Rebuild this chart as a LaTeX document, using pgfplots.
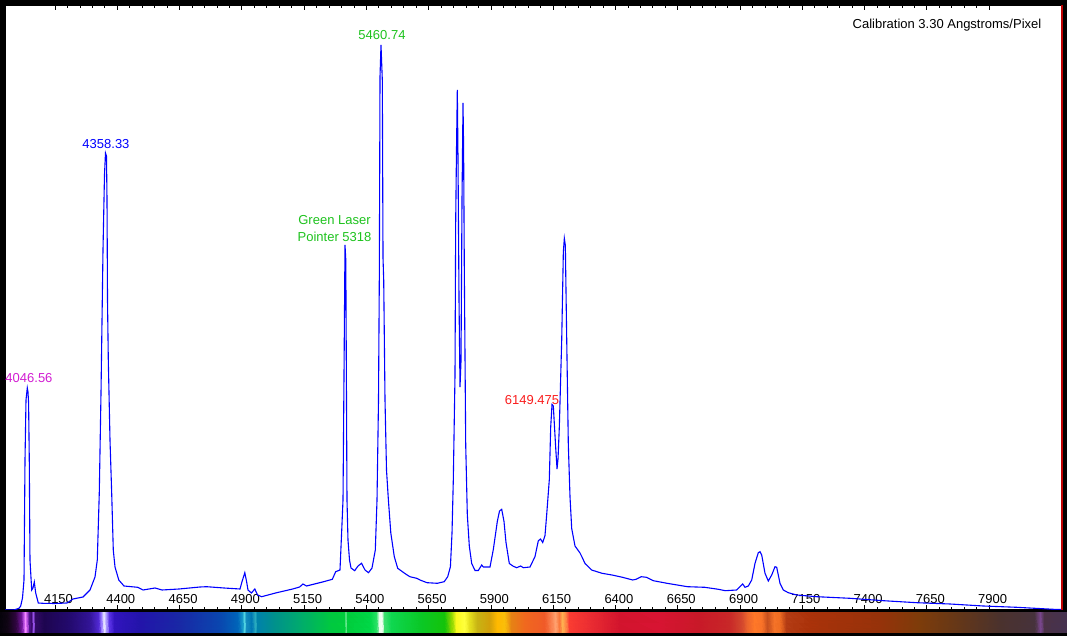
\documentclass[border=0pt]{standalone}
\usepackage{pgfplots}
\pgfplotsset{compat=1.18}
\usepackage{fontspec}
\setmainfont{Liberation Sans}
\definecolor{lblmag}{RGB}{210,30,210}
\definecolor{lblgreen}{RGB}{30,195,30}
\definecolor{lblred}{RGB}{250,30,30}
\definecolor{spec}{RGB}{0,0,255}
\definecolor{edgered}{RGB}{190,0,0}
\pgfplotstableread{
lam I
3949.3 0
3984.6 0
4005.5 1.7
4012.3 4
4019.5 12
4025.6 30
4029.6 150
4033.6 210
4038.8 222
4041.6 218
4044.0 207
4046.8 150
4049.6 50
4056.5 20
4061.7 22
4066.9 28
4072.5 17
4083.0 7
4101.8 6.7
4150.0 6.5
4198.2 7
4222.3 11
4262.4 13
4290.5 20
4310.6 33
4319.8 50
4327.8 117
4334.7 217
4342.7 360
4348.7 435
4352.7 457
4356.7 454
4358.8 410
4360.8 310
4364.0 250
4370.8 170
4377.6 117
4384.0 60
4390.9 43
4406.1 30
4427.0 24
4482.0 22.7
4503.3 20
4551.5 22
4579.6 20
4647.8 21
4732.1 23
4758.6 23.3
4828.5 22
4892.7 21
4900.7 28.3
4912.0 37.3
4919.2 28.3
4924.8 20
4938.4 17
4952.1 21
4963.3 15
4979.8 13.3
5035.2 17
5104.2 21
5132.0 23
5145.6 26
5159.7 24
5228.7 28.3
5263.2 30.7
5276.9 38.3
5294.1 40
5300.6 77
5306.2 110
5311.0 260
5314.2 365
5317.4 350
5320.2 210
5322.2 110
5326.2 70
5332.3 50
5338.3 42
5353.1 39.3
5366.4 44
5380.8 46.7
5394.5 40
5408.5 37.3
5422.6 42
5435.9 60
5442.7 110
5448.7 210
5451.9 330
5453.5 437
5454.7 533
5458.7 565
5464.0 530
5466.8 352
5469.6 330
5474.8 210
5480.8 140
5488.4 110
5498.1 77
5512.1 53.3
5525.8 41.7
5553.5 36.7
5574.4 33.3
5602.1 31.7
5615.3 30
5643.4 27.3
5684.8 26.7
5712.5 28.3
5726.5 33.3
5737.4 43.3
5743.8 77
5749.0 130
5755.8 235
5758.6 389
5761.8 460
5765.1 520
5767.9 450
5771.9 310
5775.9 223
5779.9 249
5783.9 410
5788.0 507
5790.4 460
5793.2 340
5798.8 165
5805.2 95.5
5813.2 64
5822.8 46.5
5836.1 39.5
5849.3 39.5
5863.0 45
5869.4 43
5896.3 43
5909.6 60.5
5925.6 88.5
5934.5 99
5943.3 100.7
5952.5 88.5
5960.5 67.5
5973.8 46.5
5989.9 43.7
6003.5 42.3
6019.6 44
6030.0 42.3
6056.9 43
6077.0 53.5
6090.2 69.2
6099.1 71
6107.9 67.5
6117.1 74.5
6123.9 95.5
6134.4 130.4
6140.0 183
6145.3 205.6
6150.5 204
6154.5 186.4
6160.1 162
6165.4 141
6169.4 151.4
6174.6 183
6184.2 270.3
6190.7 357.7
6194.7 371.7
6198.7 364.7
6204.3 270.3
6210.7 165.4
6217.5 113
6224.3 81.5
6237.5 64
6257.6 57
6265.6 53
6277.7 46.5
6304.2 40
6346.0 36.7
6386.1 35
6428.2 32.7
6469.2 30
6482.4 30.7
6503.7 33.3
6524.2 32.7
6551.9 29.3
6606.9 26.7
6648.2 25
6689.2 23.3
6758.2 22.7
6813.2 20.7
6840.5 19.3
6886.7 20
6899.9 23.3
6910.8 26
6920.0 22.7
6933.3 24
6946.9 30
6960.2 46.7
6973.4 57.3
6980.2 58.3
6987.0 55
7000.3 36.7
7013.5 29
7027.2 35
7040.4 43.3
7047.2 42.7
7060.5 26.7
7073.7 20
7093.8 17.3
7127.5 15
7207.8 13.3
7341.5 11.7
7475.2 9.3
7609.3 7.3
7742.9 6
7876.6 4
8010.7 2.7
8157.6 0.7
8192.6 0.5
}\spectrum
\begin{document}
\begin{tikzpicture}[x=1pt,y=1pt]
\path[use as bounding box] (0,0) rectangle (1067,636);
\fill[black] (0,0) rectangle (1067,636);
% colour strip under the plot
\begin{axis}[
  at={(0pt,3pt)}, anchor=south west,
  scale only axis, width=1067pt, height=21pt,
  xmin=0, xmax=1067, ymin=0, ymax=1,
  hide axis, view={0}{90},
]
\addplot3[surf, shader=interp, mesh/color input=explicit, mesh/rows=2]
 table[x=x,y=y,z=z,meta=c] {
x y z c
0 0 0 rgb255=5,3,10
8 0 0 rgb255=15,5,20
16 0 0 rgb255=45,5,60
22 0 0 rgb255=110,20,150
24.5 0 0 rgb255=190,80,230
26 0 0 rgb255=245,140,255
27.5 0 0 rgb255=190,80,230
30 0 0 rgb255=80,20,140
32 0 0 rgb255=60,10,110
34 0 0 rgb255=150,80,230
36 0 0 rgb255=50,10,100
45 0 0 rgb255=30,5,80
70 0 0 rgb255=35,10,110
90 0 0 rgb255=50,20,150
99 0 0 rgb255=80,40,210
102 0 0 rgb255=150,120,255
104.5 0 0 rgb255=235,235,255
107 0 0 rgb255=170,150,255
110 0 0 rgb255=90,50,230
115 0 0 rgb255=50,20,190
140 0 0 rgb255=35,20,170
180 0 0 rgb255=25,40,165
220 0 0 rgb255=10,70,175
238 0 0 rgb255=0,100,185
243 0 0 rgb255=20,150,200
245 0 0 rgb255=80,210,225
247 0 0 rgb255=20,140,190
252 0 0 rgb255=0,120,180
256 0 0 rgb255=40,170,190
258 0 0 rgb255=0,130,170
275 0 0 rgb255=0,145,140
300 0 0 rgb255=0,170,110
330 0 0 rgb255=0,200,65
345 0 0 rgb255=0,205,60
346.5 0 0 rgb255=110,235,150
348 0 0 rgb255=0,205,60
370 0 0 rgb255=0,215,70
377 0 0 rgb255=40,225,100
380 0 0 rgb255=235,255,235
382.5 0 0 rgb255=245,255,245
385 0 0 rgb255=60,225,110
392 0 0 rgb255=15,215,80
420 0 0 rgb255=10,200,40
445 0 0 rgb255=20,195,10
452 0 0 rgb255=140,215,0
457 0 0 rgb255=250,250,30
465 0 0 rgb255=255,255,60
470 0 0 rgb255=230,225,30
478 0 0 rgb255=200,180,20
490 0 0 rgb255=210,160,10
498 0 0 rgb255=255,185,0
505 0 0 rgb255=250,190,10
512 0 0 rgb255=230,130,20
525 0 0 rgb255=240,105,30
545 0 0 rgb255=240,90,40
552 0 0 rgb255=250,130,80
556 0 0 rgb255=255,160,110
560 0 0 rgb255=250,120,60
563 0 0 rgb255=255,175,80
566 0 0 rgb255=255,140,70
570 0 0 rgb255=250,60,50
590 0 0 rgb255=235,45,50
620 0 0 rgb255=210,20,45
660 0 0 rgb255=215,20,50
700 0 0 rgb255=200,25,40
730 0 0 rgb255=200,40,40
742 0 0 rgb255=210,70,45
748 0 0 rgb255=235,100,45
755 0 0 rgb255=255,120,40
762 0 0 rgb255=250,115,40
768 0 0 rgb255=200,80,30
775 0 0 rgb255=245,115,40
780 0 0 rgb255=240,110,35
787 0 0 rgb255=180,60,20
810 0 0 rgb255=170,50,10
880 0 0 rgb255=150,50,10
920 0 0 rgb255=125,60,10
960 0 0 rgb255=100,55,25
1000 0 0 rgb255=75,50,45
1035 0 0 rgb255=70,50,60
1041 0 0 rgb255=120,70,140
1045 0 0 rgb255=75,50,70
1067 0 0 rgb255=70,50,80
0 1 0 rgb255=5,3,10
8 1 0 rgb255=15,5,20
16 1 0 rgb255=45,5,60
22 1 0 rgb255=110,20,150
24.5 1 0 rgb255=190,80,230
26 1 0 rgb255=245,140,255
27.5 1 0 rgb255=190,80,230
30 1 0 rgb255=80,20,140
32 1 0 rgb255=60,10,110
34 1 0 rgb255=150,80,230
36 1 0 rgb255=50,10,100
45 1 0 rgb255=30,5,80
70 1 0 rgb255=35,10,110
90 1 0 rgb255=50,20,150
99 1 0 rgb255=80,40,210
102 1 0 rgb255=150,120,255
104.5 1 0 rgb255=235,235,255
107 1 0 rgb255=170,150,255
110 1 0 rgb255=90,50,230
115 1 0 rgb255=50,20,190
140 1 0 rgb255=35,20,170
180 1 0 rgb255=25,40,165
220 1 0 rgb255=10,70,175
238 1 0 rgb255=0,100,185
243 1 0 rgb255=20,150,200
245 1 0 rgb255=80,210,225
247 1 0 rgb255=20,140,190
252 1 0 rgb255=0,120,180
256 1 0 rgb255=40,170,190
258 1 0 rgb255=0,130,170
275 1 0 rgb255=0,145,140
300 1 0 rgb255=0,170,110
330 1 0 rgb255=0,200,65
345 1 0 rgb255=0,205,60
346.5 1 0 rgb255=110,235,150
348 1 0 rgb255=0,205,60
370 1 0 rgb255=0,215,70
377 1 0 rgb255=40,225,100
380 1 0 rgb255=235,255,235
382.5 1 0 rgb255=245,255,245
385 1 0 rgb255=60,225,110
392 1 0 rgb255=15,215,80
420 1 0 rgb255=10,200,40
445 1 0 rgb255=20,195,10
452 1 0 rgb255=140,215,0
457 1 0 rgb255=250,250,30
465 1 0 rgb255=255,255,60
470 1 0 rgb255=230,225,30
478 1 0 rgb255=200,180,20
490 1 0 rgb255=210,160,10
498 1 0 rgb255=255,185,0
505 1 0 rgb255=250,190,10
512 1 0 rgb255=230,130,20
525 1 0 rgb255=240,105,30
545 1 0 rgb255=240,90,40
552 1 0 rgb255=250,130,80
556 1 0 rgb255=255,160,110
560 1 0 rgb255=250,120,60
563 1 0 rgb255=255,175,80
566 1 0 rgb255=255,140,70
570 1 0 rgb255=250,60,50
590 1 0 rgb255=235,45,50
620 1 0 rgb255=210,20,45
660 1 0 rgb255=215,20,50
700 1 0 rgb255=200,25,40
730 1 0 rgb255=200,40,40
742 1 0 rgb255=210,70,45
748 1 0 rgb255=235,100,45
755 1 0 rgb255=255,120,40
762 1 0 rgb255=250,115,40
768 1 0 rgb255=200,80,30
775 1 0 rgb255=245,115,40
780 1 0 rgb255=240,110,35
787 1 0 rgb255=180,60,20
810 1 0 rgb255=170,50,10
880 1 0 rgb255=150,50,10
920 1 0 rgb255=125,60,10
960 1 0 rgb255=100,55,25
1000 1 0 rgb255=75,50,45
1035 1 0 rgb255=70,50,60
1041 1 0 rgb255=120,70,140
1045 1 0 rgb255=75,50,70
1067 1 0 rgb255=70,50,80
};
\end{axis}
% spectrum plot
\begin{axis}[
  at={(5pt,26pt)}, anchor=south west,
  scale only axis, width=1057pt, height=605pt,
  xmin=3949.3, xmax=8192.6, ymin=0, ymax=605,
  axis background/.style={fill=white},
  axis line style={black, line width=1.2pt},
  ytick=\empty,
  xtick={4150,4400,...,7900},
  minor x tick num=4,
  tick align=inside,
  xtick pos=both,
  xticklabel pos=lower,
  major tick length=5pt, minor tick length=3pt,
  tick style={black, line width=0.8pt},
  xticklabel style={font=\fontsize{13}{15}\selectfont, anchor=base, yshift=6.5pt, xshift=3.5pt},
  /pgf/number format/1000 sep={},
  /pgf/number format/assume math mode=true,
]
\addplot[spec, line width=1.1pt, sharp plot] table[x=lam, y=I] {\spectrum};
\node[text=lblmag, font=\fontsize{13}{15}\selectfont] at (axis cs:4045.6,232) {4046.56};
\node[text=spec, font=\fontsize{13}{15}\selectfont] at (axis cs:4354.7,466) {4358.33};
\node[text=lblgreen, font=\fontsize{13}{17}\selectfont, align=center] at (axis cs:5272.1,381.5) {Green Laser\\Pointer 5318};
\node[text=lblgreen, font=\fontsize{13}{15}\selectfont] at (axis cs:5462.7,575) {5460.74};
\node[text=lblred, font=\fontsize{13}{15}\selectfont] at (axis cs:6064.9,210) {6149.475};
\node[text=black, font=\fontsize{13}{15}\selectfont] at (axis cs:7730.9,585) {Calibration 3.30 Angstroms/Pixel};
\end{axis}
\draw[edgered, line width=1.5pt] (1062,26) -- (1062,631);
\end{tikzpicture}
\end{document}
